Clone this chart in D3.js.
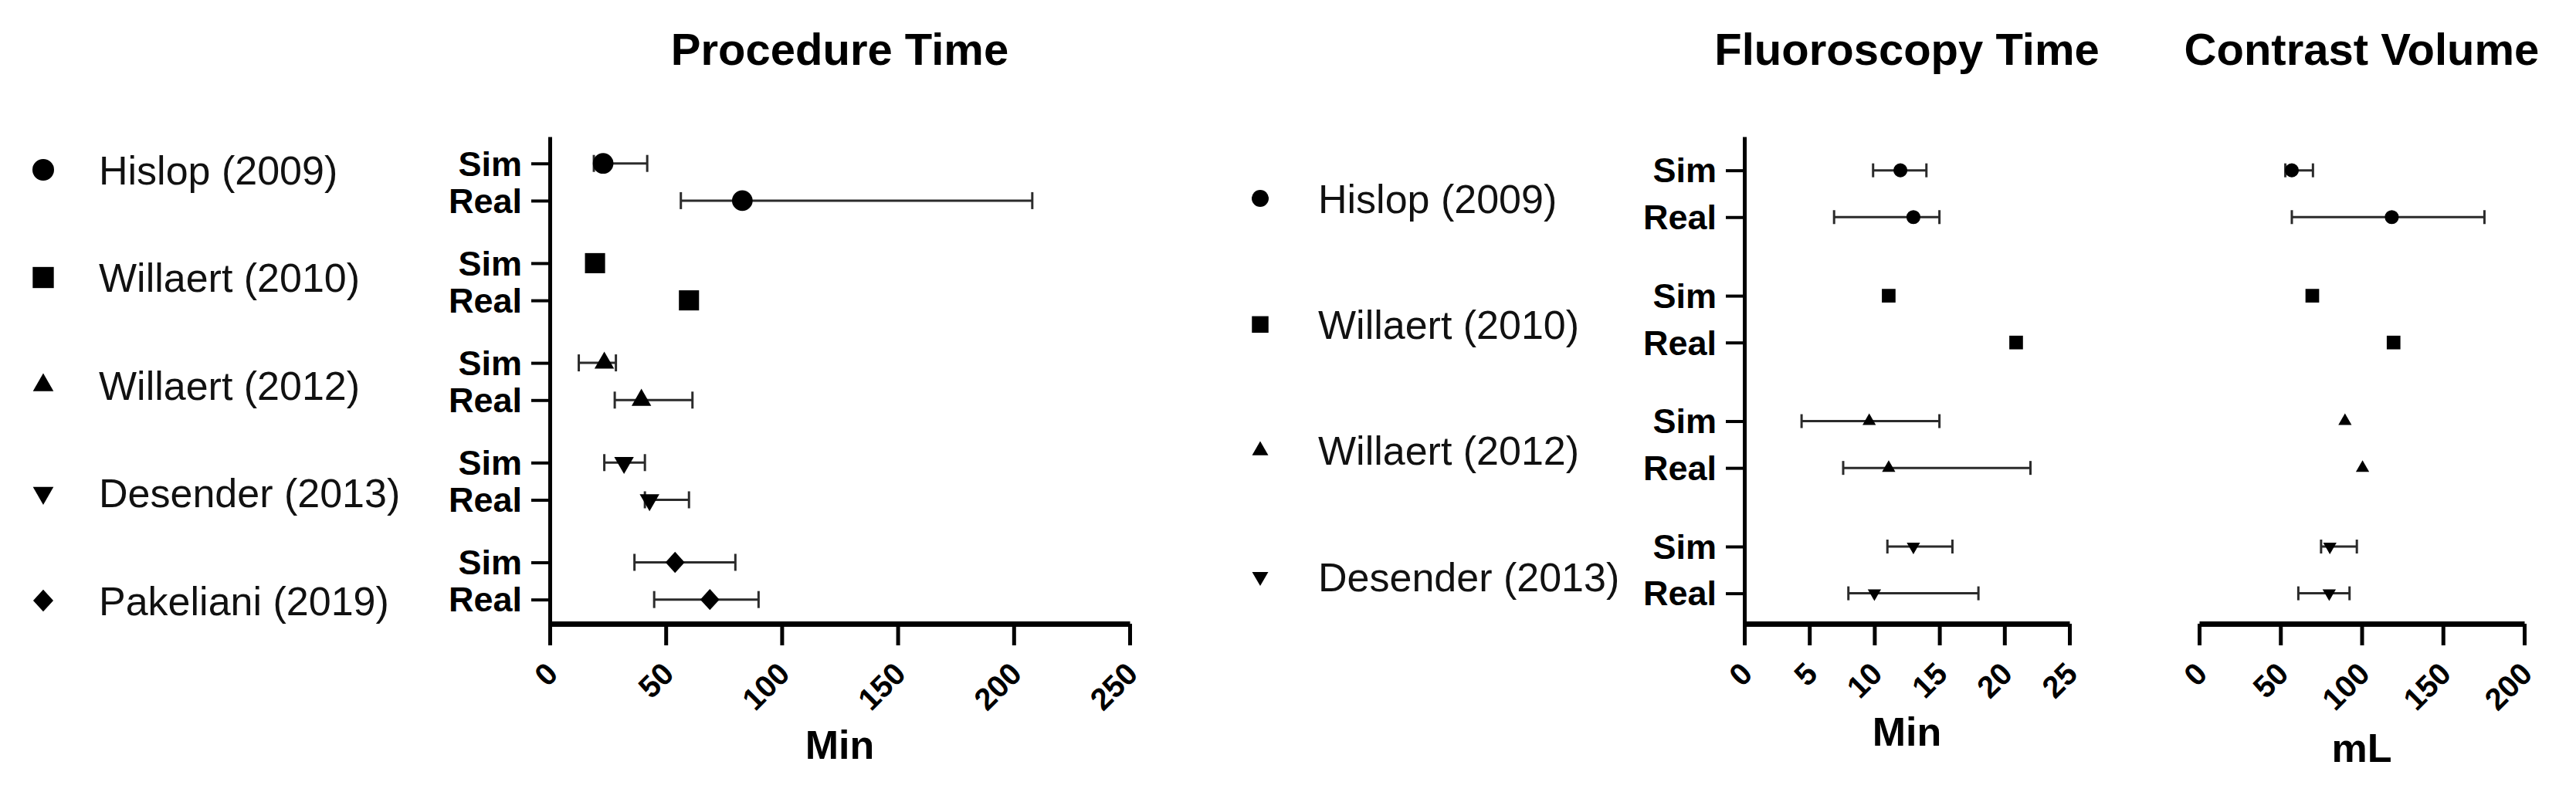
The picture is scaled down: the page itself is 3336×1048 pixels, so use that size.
<!DOCTYPE html>
<html>
<head>
<meta charset="utf-8">
<script src="https://cdn.jsdelivr.net/npm/d3@7"></script>
<style>
  body { margin: 0; background: #fff; }
  text { font-family: "Liberation Sans", Arial, sans-serif; }
</style>
</head>
<body>
<div id="container"></div>
<script>
// Recuadro fijo del gráfico.
const WIDTH = 3336;
const HEIGHT = 1048;
const FONT = '"Liberation Sans", Arial, sans-serif';

// Datos: estudios y condiciones.
const studies = ['Hislop (2009)', 'Willaert (2010)', 'Willaert (2012)', 'Desender (2013)', 'Pakeliani (2019)'];
const conditions = ['Sim', 'Real'];

// Tiempo de procedimiento (min): [Sim, Real] por estudio.
const procedureMean = [[23, 83], [19.5, 60], [23.5, 39.5], [32, 43], [54, 69]];
const procedureLow  = [[19, 56.5], [null, null], [12.5, 28], [23.5, 41], [36.5, 45]];
const procedureHigh = [[42, 208], [null, null], [28.5, 61.5], [41, 60], [80, 90]];

// Tiempo de fluoroscopía (min).
const fluoroMean = [[12, 13], [11.1, 20.9], [9.6, 11.1], [13, 10]];
const fluoroLow  = [[9.9, 6.9], [null, null], [4.4, 7.6], [11, 8]];
const fluoroHigh = [[14, 15], [null, null], [15, 22], [16, 18]];

// Volumen de contraste (mL).
const contrastMean = [[57, 118.5], [69.6, 119.6], [89.7, 100.5], [80.4, 80]];
const contrastLow  = [[53, 57], [null, null], [null, null], [75, 61]];
const contrastHigh = [[70, 175.5], [null, null], [null, null], [97, 92.5]];

// Ticks de los ejes.
const procedureTicks = [0, 50, 100, 150, 200, 250];
const fluoroTicks = [0, 5, 10, 15, 20, 25];
const contrastTicks = [0, 50, 100, 150, 200];

// Símbolos: triángulo invertido y rombo a mano.
const triangleDown = {
  draw(ctx, size) {
    const y = -Math.sqrt(size / (Math.sqrt(3) * 3));
    ctx.moveTo(0, -y * 2);
    ctx.lineTo(-Math.sqrt(3) * y, y);
    ctx.lineTo(Math.sqrt(3) * y, y);
    ctx.closePath();
  }
};
const diamond = {
  draw(ctx, size) {
    const a = Math.sqrt(size / 2.2), b = 1.1 * a;
    ctx.moveTo(0, -b);
    ctx.lineTo(a, 0);
    ctx.lineTo(0, b);
    ctx.lineTo(-a, 0);
    ctx.closePath();
  }
};
const shapes = [d3.symbolCircle, d3.symbolSquare, d3.symbolTriangle, triangleDown, diamond];
const shapeArea = [560, 680, 280, 280, 340];

const GROUP_STEP = 2.68; // separación entre estudios, en filas
const Y_TOP = 177;
const Y_BOTTOM = 808;

const svg = d3.select('#container')
              .append('svg')
                .attr('width', WIDTH)
                .attr('height', HEIGHT)
                .style('display', 'block');

svg.append('rect').attr('width', WIDTH).attr('height', HEIGHT).attr('fill', '#fff');

const symbolPath = (g, k) => d3.symbol().type(shapes[g]).size(shapeArea[g] * k)();

// Dibuja un panel con sus barras de error.
function drawPanel(opt) {
  const n = opt.mean.length;
  const x = d3.scaleLinear().domain([opt.ticks[0], opt.ticks[opt.ticks.length - 1]]).range([opt.x0, opt.x1]);
  const y = d3.scaleLinear().domain([-0.72, (n - 1) * GROUP_STEP + 1.65]).range([Y_TOP, Y_BOTTOM]);

  const rows = opt.mean.flatMap((pair, g) => pair.map((m, c) => ({
    g, c, m,
    lo: opt.low[g][c],
    hi: opt.high[g][c],
    slot: g * GROUP_STEP + c
  })));

  const panel = svg.append('g');

  // Barras de error.
  const bars = panel.append('g')
                    .selectAll('g')
                    .data(rows.filter(d => d.lo != null))
                    .enter()
                  .append('g')
                    .attr('stroke', '#2b2b2b')
                    .attr('stroke-width', 3);
  bars.append('line')
      .attr('x1', d => x(d.lo)).attr('x2', d => x(d.hi))
      .attr('y1', d => y(d.slot)).attr('y2', d => y(d.slot));
  bars.append('line')
      .attr('x1', d => x(d.lo)).attr('x2', d => x(d.lo))
      .attr('y1', d => y(d.slot) - opt.cap).attr('y2', d => y(d.slot) + opt.cap);
  bars.append('line')
      .attr('x1', d => x(d.hi)).attr('x2', d => x(d.hi))
      .attr('y1', d => y(d.slot) - opt.cap).attr('y2', d => y(d.slot) + opt.cap);

  // Marcadores.
  panel.append('g')
       .selectAll('path')
       .data(rows)
       .enter()
     .append('path')
       .attr('d', d => symbolPath(d.g, opt.markerK))
       .attr('transform', d => `translate(${x(d.m)},${y(d.slot)})`)
       .attr('fill', '#000');

  // Eje horizontal con etiquetas giradas.
  const xAxis = panel.append('g')
                     .attr('transform', `translate(0,${Y_BOTTOM})`)
                     .call(d3.axisBottom(x)
                             .tickValues(opt.ticks)
                             .tickSize(28)
                             .tickSizeOuter(0));
  xAxis.select('.domain').attr('stroke-width', 7).attr('stroke', '#000');
  xAxis.selectAll('.tick line').attr('stroke-width', 5).attr('stroke', '#000');
  xAxis.selectAll('.tick text')
       .attr('x', 0).attr('y', 0).attr('dy', '0.36em')
       .attr('text-anchor', 'end')
       .attr('transform', 'translate(2,57) rotate(-45)')
       .attr('font-family', FONT)
       .attr('font-size', 40)
       .attr('font-weight', 'bold')
       .attr('fill', '#000');

  // Eje vertical con Sim / Real.
  if (opt.yAxis) {
    const labelBySlot = new Map(rows.map(d => [d.slot, conditions[d.c]]));
    const yAxis = panel.append('g')
                       .attr('transform', `translate(${opt.x0},0)`)
                       .call(d3.axisLeft(y)
                               .tickValues(rows.map(d => d.slot))
                               .tickFormat(d => labelBySlot.get(d))
                               .tickSize(24)
                               .tickSizeOuter(0)
                               .tickPadding(12));
    yAxis.select('.domain').attr('stroke-width', 5).attr('stroke', '#000');
    yAxis.selectAll('.tick line').attr('stroke-width', 4).attr('stroke', '#000');
    yAxis.selectAll('.tick text')
         .attr('dy', '0.34em')
         .attr('font-family', FONT)
         .attr('font-size', 45)
         .attr('font-weight', 'bold')
         .attr('fill', '#000');
  }

  // Título y unidad.
  const cx = (opt.x0 + opt.x1) / 2;
  panel.append('text')
       .attr('x', cx).attr('y', 63).attr('dy', '0.36em')
       .attr('text-anchor', 'middle')
       .attr('font-size', 58).attr('font-weight', 'bold')
       .text(opt.title);
  panel.append('text')
       .attr('x', cx).attr('y', opt.unitY).attr('dy', '0.36em')
       .attr('text-anchor', 'middle')
       .attr('font-size', 52).attr('font-weight', 'bold')
       .text(opt.unit);
}

// Leyenda de estudios.
function drawLegend(names, xMarker, xText, y0, y1, k) {
  const y = d3.scalePoint().domain(names).range([y0, y1]);
  const legend = svg.append('g');
  const item = legend.selectAll('g')
                     .data(names)
                     .enter()
                   .append('g')
                     .attr('transform', d => `translate(0,${y(d)})`);
  item.append('path')
      .attr('d', (d, i) => symbolPath(i, k))
      .attr('transform', `translate(${xMarker},0)`)
      .attr('fill', '#000');
  item.append('text')
      .attr('x', xText).attr('dy', '0.36em')
      .attr('font-size', 52)
      .attr('fill', '#111')
      .text(d => d);
}

drawLegend(studies, 56, 128, 220, 778, 1.1);
drawLegend(studies.slice(0, 4), 1632, 1707, 257, 747, 0.68);

drawPanel({
  title: 'Procedure Time', unit: 'Min', unitY: 964,
  x0: 712, x1: 1463, ticks: procedureTicks,
  mean: procedureMean, low: procedureLow, high: procedureHigh,
  yAxis: true, cap: 11, markerK: 1
});

drawPanel({
  title: 'Fluoroscopy Time', unit: 'Min', unitY: 947,
  x0: 2259, x1: 2680, ticks: fluoroTicks,
  mean: fluoroMean, low: fluoroLow, high: fluoroHigh,
  yAxis: true, cap: 9, markerK: 0.46
});

drawPanel({
  title: 'Contrast Volume', unit: 'mL', unitY: 968,
  x0: 2848, x1: 3269, ticks: contrastTicks,
  mean: contrastMean, low: contrastLow, high: contrastHigh,
  yAxis: false, cap: 9, markerK: 0.46
});
</script>
</body>
</html>
